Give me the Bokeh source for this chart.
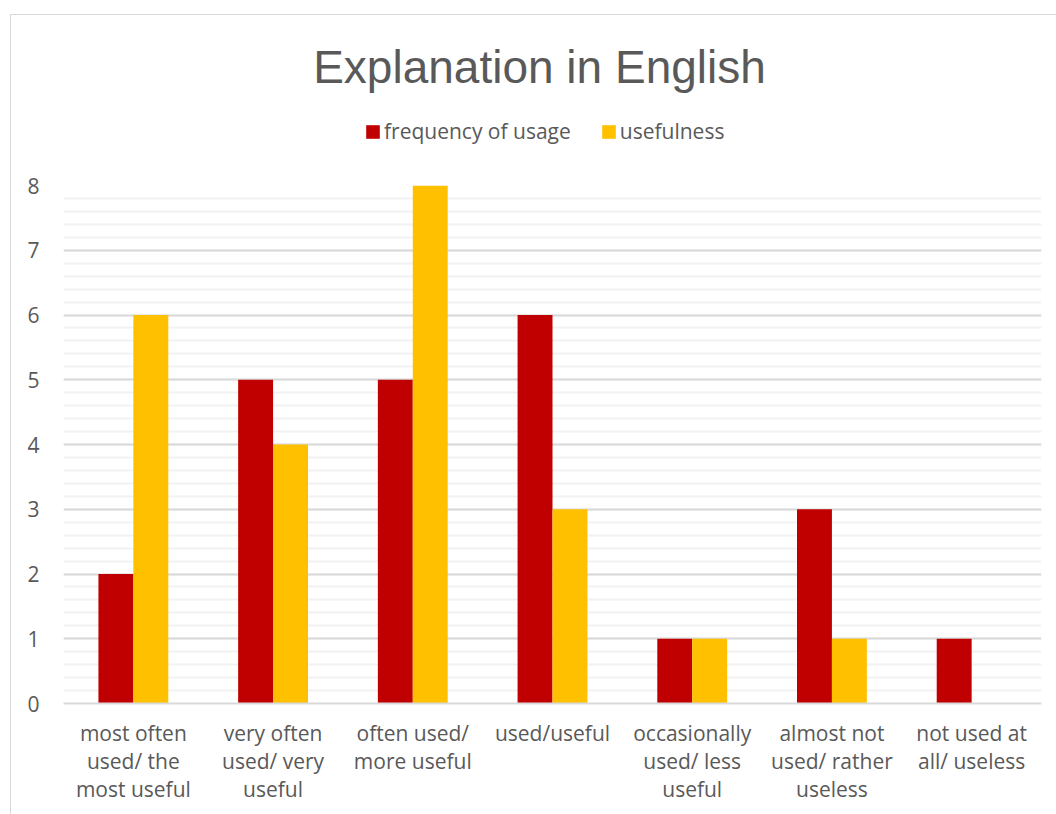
from bokeh.plotting import figure
from bokeh.layouts import column
from bokeh.models import (FactorRange, Range1d, SingleIntervalTicker, Legend, LegendItem,
                          ColumnDataSource)
from bokeh.core.properties import value
from bokeh.transform import dodge
from bokeh.embed import file_html
from bokeh.resources import INLINE

categories = ["most often\nused/ the\nmost useful", "very often\nused/ very\nuseful",
              "often used/\nmore useful", "used/useful", "occasionally\nused/ less\nuseful",
              "almost not\nused/ rather\nuseless", "not used at\nall/ useless"]
frequency = [2, 5, 5, 6, 1, 3, 1]
usefulness = [6, 4, 8, 3, 1, 1, 0]
series_names = ["frequency of usage", "usefulness"]
series_colors = ["#C00000", "#FFC000"]
title_text = "Explanation in English"

FONT = "Open Sans"
GREY = "#595959"

# ---------- header: title + legend (frame aligned with the main chart's frame) ----------
HH = 150
head = figure(width=1046, height=HH, x_range=Range1d(62, 1040), y_range=Range1d(0, HH),
              min_border=0, output_backend="svg", toolbar_location=None)
head.axis.visible = False
head.grid.visible = False
head.outline_line_color = None
head.text(x=[538], y=[99], text=[title_text], text_font=value("Liberation Sans"),
          text_font_size="46px", text_color=GREY, text_align="center",
          text_baseline="middle")
offscreen = ColumnDataSource(dict(x=[-1000], top=[-1000]))
h1 = head.vbar(x="x", top="top", width=1, source=offscreen,
               fill_color=series_colors[0], line_color=None)
h2 = head.vbar(x="x", top="top", width=1, source=offscreen,
               fill_color=series_colors[1], line_color=None)
legend = Legend(items=[LegendItem(label=series_names[0], renderers=[h1]),
                       LegendItem(label=series_names[1], renderers=[h2])],
                orientation="horizontal", location=(301, 20),
                label_text_font=FONT, label_text_font_size="21px", label_text_color=GREY,
                glyph_width=17, glyph_height=17, spacing=29, border_line_color=None,
                background_fill_alpha=0, label_standoff=3, margin=0, padding=0)
head.add_layout(legend, "center")

# ---------- main chart ----------
p = figure(x_range=FactorRange(*categories), y_range=Range1d(0, 8),
           frame_width=978, frame_height=518,
           min_border_left=52, min_border_right=16, min_border_top=20, min_border_bottom=112,
           output_backend="svg", toolbar_location=None)
p.outline_line_color = None

src = dict(cat=categories, freq=frequency, use=usefulness)
p.vbar(x=dodge("cat", -0.125, range=p.x_range), top="freq", width=0.25, source=src,
       fill_color=series_colors[0], line_color=None)
p.vbar(x=dodge("cat", 0.125, range=p.x_range), top="use", width=0.25, source=src,
       fill_color=series_colors[1], line_color=None)

p.yaxis.ticker = SingleIntervalTicker(interval=1, num_minor_ticks=5)
p.yaxis.axis_line_color = None
p.yaxis.major_tick_line_color = None
p.yaxis.minor_tick_line_color = None
p.yaxis.major_label_text_font = FONT
p.yaxis.major_label_text_font_size = "21px"
p.yaxis.major_label_text_color = GREY
p.yaxis.major_label_standoff = 18

p.xaxis.axis_line_color = "#d9d9d9"
p.xaxis.axis_line_width = 2
p.xaxis.major_tick_line_color = None
p.xaxis.minor_tick_line_color = None
p.xaxis.major_label_text_font = FONT
p.xaxis.major_label_text_font_size = "21px"
p.xaxis.major_label_text_color = GREY
p.xaxis.major_label_text_line_height = 1.0
p.xaxis.major_label_standoff = 9

p.xgrid.grid_line_color = None
p.ygrid.grid_line_color = "#d9d9d9"
p.ygrid.grid_line_width = 2
p.ygrid.minor_grid_line_color = "#f2f2f2"
p.ygrid.minor_grid_line_width = 2

layout = column(head, p, spacing=0, margin=(14, 0, 0, 10),
                styles={"border-left": "1px solid #d9d9d9", "border-top": "1px solid #d9d9d9"})

open("out.html", "w").write(file_html(layout, INLINE))
